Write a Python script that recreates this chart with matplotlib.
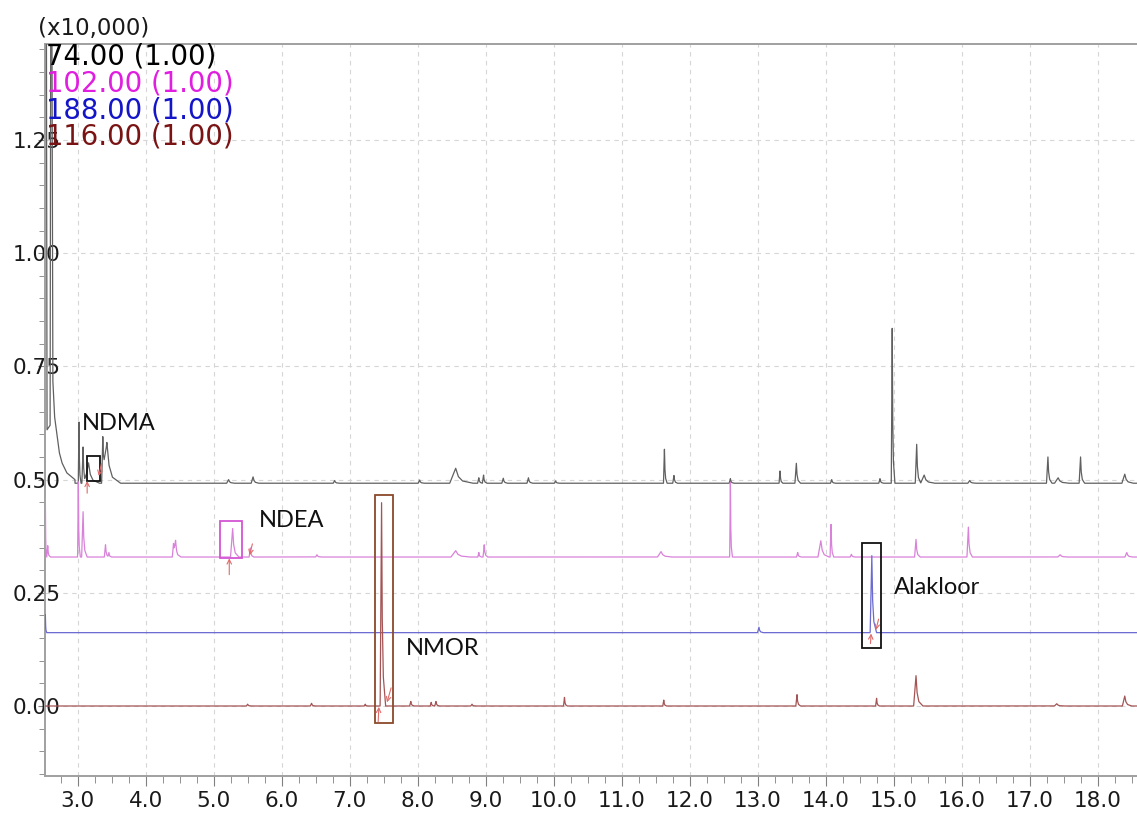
import numpy as np
import matplotlib.pyplot as plt
from matplotlib.patches import Rectangle
from matplotlib.ticker import MultipleLocator, FormatStrFormatter

plt.rcParams['font.family'] = ['DejaVu Sans']

# retention time window (min)
T0, T1 = 2.52, 18.58

# m/z 74 (gray): solvent front, then peaks as (rt, height above baseline, tail width)
base_74 = 0.492
front_74_rt = [2.50, 2.525, 2.54, 2.55, 2.595, 2.605, 2.62, 2.635, 2.66, 2.695, 2.73, 2.77, 2.84, 2.96]
front_74_int = [1.60, 1.60, 1.60, 0.61, 0.62, 1.60, 1.60, 0.72, 0.64, 0.60, 0.56, 0.537, 0.515, 0.500]
rt_74 = [3.02, 3.08, 3.16, 3.37, 3.43, 5.22, 5.58, 6.78, 8.03, 8.56, 8.90, 8.97, 9.26, 9.63,
         10.03, 11.63, 11.77, 12.60, 13.33, 13.57, 14.09, 14.80, 14.98, 15.34, 15.45, 16.12,
         17.27, 17.42, 17.75, 18.40]
h_74 = [0.135, 0.080, 0.045, 0.090, 0.090, 0.008, 0.014, 0.006, 0.007, 0.033, 0.012, 0.018, 0.011, 0.012,
        0.005, 0.075, 0.017, 0.010, 0.027, 0.044, 0.008, 0.010, 0.342, 0.086, 0.018, 0.006,
        0.058, 0.012, 0.058, 0.020]
tail_74 = [0.03, 0.05, 0.16, 0.05, 0.20, 0.08, 0.08, 0.06, 0.06, 0.25, 0.05, 0.05, 0.06, 0.06,
           0.05, 0.04, 0.05, 0.05, 0.04, 0.06, 0.05, 0.05, 0.04, 0.06, 0.15, 0.08,
           0.06, 0.15, 0.06, 0.12]

# m/z 102 (magenta)
base_102 = 0.329
rt_102 = [2.525, 2.56, 3.01, 3.08, 3.41, 3.46, 4.41, 4.44, 5.28, 5.54, 6.52, 8.56, 8.90, 8.98,
          11.58, 12.60, 13.59, 13.93, 14.08, 14.38, 15.33, 16.10, 17.45, 18.43]
h_102 = [0.130, 0.025, 0.166, 0.100, 0.027, 0.010, 0.030, 0.034, 0.063, 0.020, 0.005, 0.014, 0.010, 0.027,
         0.012, 0.165, 0.010, 0.036, 0.072, 0.006, 0.039, 0.066, 0.005, 0.010]
tail_102 = [0.02, 0.04, 0.03, 0.06, 0.05, 0.04, 0.05, 0.08, 0.09, 0.05, 0.06, 0.20, 0.04, 0.05,
            0.15, 0.03, 0.05, 0.12, 0.04, 0.05, 0.06, 0.06, 0.10, 0.08]

# m/z 188 (blue)
base_188 = 0.162
rt_188 = [2.525, 13.02, 14.68]
h_188 = [0.040, 0.012, 0.170]
tail_188 = [0.02, 0.06, 0.07]

# m/z 116 (dark red)
base_116 = 0.0
rt_116 = [5.50, 6.44, 7.23, 7.47, 7.90, 8.20, 8.27, 8.80, 10.16, 11.62, 13.58, 14.75, 15.33, 17.40, 18.40]
h_116 = [0.004, 0.006, 0.004, 0.449, 0.010, 0.008, 0.010, 0.004, 0.019, 0.013, 0.025, 0.017, 0.067, 0.005, 0.022]
tail_116 = [0.05, 0.05, 0.04, 0.06, 0.05, 0.04, 0.05, 0.05, 0.04, 0.04, 0.05, 0.04, 0.10, 0.10, 0.10]

# integrated compounds: label, box rt range, box intensity range, label position
cmp_names = ['NDMA', 'NDEA', 'NMOR', 'Alakloor']
box_rt = [(3.14, 3.33), (5.09, 5.42), (7.38, 7.64), (14.54, 14.81)]
box_int = [(0.498, 0.553), (0.327, 0.409), (-0.038, 0.467), (0.128, 0.361)]
box_col = ['#111111', '#d455d4', '#8b4a2b', '#111111']
lab_rt = [3.06, 5.66, 7.83, 15.00]
lab_int = [0.624, 0.409, 0.128, 0.261]

# peak start / end markers (tail rt, tail int, head rt, head int)
marks = [(3.14, 0.470, 3.14, 0.497), (3.35, 0.535, 3.31, 0.508),
         (5.23, 0.290, 5.23, 0.326), (5.57, 0.358, 5.53, 0.333),
         (7.42, -0.035, 7.43, -0.002), (7.61, 0.040, 7.55, 0.008),
         (14.66, 0.138, 14.67, 0.160), (14.78, 0.192, 14.74, 0.168)]

ions = ['74.00 (1.00)', '102.00 (1.00)', '188.00 (1.00)', '116.00 (1.00)']
ion_col = ['#000000', '#e01ee0', '#1414c8', '#7a1414']
line_col = ['#606060', '#d982d9', '#6a6ad2', '#a45454']


def trace(base, rts, hs, tails, front_rt=None, front_int=None):
    grid = np.arange(T0 - 0.02, T1 + 0.02, 0.002)
    grid = np.union1d(grid, rts)
    if front_rt is not None:
        grid = np.union1d(grid, front_rt)
    y = np.full_like(grid, base)
    for r, h, t in zip(rts, hs, tails):
        px = [r - 0.35 * t, r, r + 0.15 * t, r + 0.4 * t, r + t]
        py = [0, h, 0.45 * h, 0.15 * h, 0]
        y += np.interp(grid, px, py, left=0, right=0)
    if front_rt is not None:
        y = np.where(grid <= front_rt[-1], np.interp(grid, front_rt, front_int), y)
    return grid, y


fig = plt.figure(figsize=(11.37, 8.14), dpi=100)
ax = fig.add_axes([45 / 1137, 38 / 814, 1 - 45 / 1137, 732 / 814])

traces = [trace(base_74, rt_74, h_74, tail_74, front_74_rt, front_74_int),
          trace(base_102, rt_102, h_102, tail_102),
          trace(base_188, rt_188, h_188, tail_188),
          trace(base_116, rt_116, h_116, tail_116)]
for (x, y), c in zip(traces, line_col):
    ax.plot(x, y, color=c, lw=0.9, zorder=3)

for name, (r0, r1), (i0, i1), c, lx, ly in zip(cmp_names, box_rt, box_int, box_col, lab_rt, lab_int):
    ax.add_patch(Rectangle((r0, i0), r1 - r0, i1 - i0, fill=False, ec=c, lw=1.3, zorder=4))
    ax.text(lx, ly, name, family='Lato', fontsize=17, color='#111111', ha='left', va='center', zorder=5)

for x0, y0, x1, y1 in marks:
    ax.annotate('', xy=(x1, y1), xytext=(x0, y0),
                arrowprops=dict(arrowstyle='->', color='#e06a6a', lw=0.8, shrinkA=0, shrinkB=0,
                                mutation_scale=8), zorder=5)

ax.set_xlim(T0, T1)
ax.set_ylim(-0.1546, 1.462)

ax.xaxis.set_major_locator(MultipleLocator(1.0))
ax.xaxis.set_minor_locator(MultipleLocator(0.25))
ax.xaxis.set_major_formatter(FormatStrFormatter('%.1f'))
ax.yaxis.set_major_locator(MultipleLocator(0.25))
ax.yaxis.set_minor_locator(MultipleLocator(0.05))
ax.yaxis.set_major_formatter(FormatStrFormatter('%.2f'))

ax.set_axisbelow(True)
ax.grid(True, which='major', color='#d6d6d6', linestyle=(0, (4, 4)), linewidth=0.8)

for side in ['left', 'bottom', 'top']:
    ax.spines[side].set_color('#a0a0a0')
    ax.spines[side].set_linewidth(1.4)
ax.spines['right'].set_visible(False)

ax.tick_params(axis='both', which='both', direction='out', color='#808080',
               labelsize=15.5, labelcolor='#1a1a1a', top=False, right=False)
ax.tick_params(axis='y', which='major', length=5, pad=-16)
ax.tick_params(axis='y', which='minor', length=4)
ax.tick_params(axis='x', which='major', length=7, pad=4)
ax.tick_params(axis='x', which='minor', length=5)
for lab in ax.get_yticklabels():
    lab.set_zorder(6)

fig.text(38 / 1137, 1 - 35 / 814, '(x10,000)', fontsize=16.5, color='#1a1a1a', va='baseline')
for k, (txt, c) in enumerate(zip(ions, ion_col)):
    fig.text(46 / 1137, 1 - (65 + 26.5 * k) / 814, txt, fontsize=19.8, color=c, va='baseline')

fig.savefig('out.png', dpi=100)
